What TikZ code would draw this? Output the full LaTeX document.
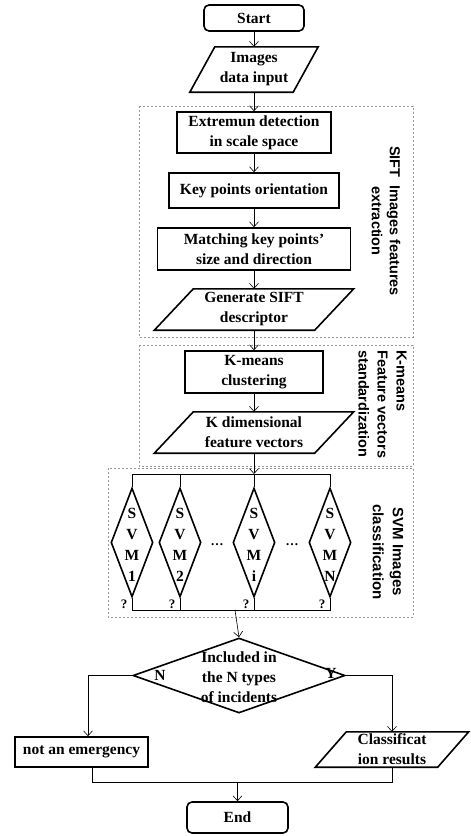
\documentclass[tikz,border=0pt]{standalone}
\usepackage{fontspec}
\setmainfont{Liberation Serif}
\newfontfamily\labfont{Liberation Sans}
\usetikzlibrary{shapes.geometric,arrows.meta}
\newcommand\drawpara[2]{\draw[border] ([xshift=#2]#1.north west) -- ([xshift=#2]#1.north east) -- ([xshift=-#2]#1.south east) -- ([xshift=-#2]#1.south west) -- cycle;}
\begin{document}
\begin{tikzpicture}[x=1pt,y=-1pt,
  border/.style={line width=1.6pt, line join=miter},
  txt/.style={inner sep=0pt, align=center, font=\bfseries\fontsize{15.5}{20}\selectfont},
  proc/.style={txt, draw, border},
  term/.style={proc, rounded corners=5pt},
  io/.style={txt},
  svmd/.style={shape=diamond, draw, border, inner sep=0pt, minimum width=42pt, minimum height=109pt},
  svmt/.style={inner sep=0pt, align=center, font=\bfseries\fontsize{15.5}{21}\selectfont},
  qm/.style={inner sep=0pt, font=\bfseries\fontsize{13}{13}\selectfont},
  conn/.style={line width=0.6pt},
  arr/.style={conn, -{Straight Barb[length=5pt,width=9pt]}},
  dbox/.style={draw=black!40, line width=0.5pt, dash pattern=on 2pt off 2pt},
  sidelab/.style={inner sep=0pt, rotate=-90, font=\labfont\bfseries\fontsize{14.5}{19}\selectfont}
]
\useasboundingbox[fill=white] (0,0) rectangle (471,836);

% dashed groups
\draw[dbox] (139,106) rectangle (413,337);
\draw[dbox] (139,345) rectangle (413,466);
\draw[dbox] (108,468) rectangle (413,617);

% main column
\node[term, minimum width=100pt, minimum height=26pt] (start) at (254,18) {Start};
\node[io, minimum width=103pt, minimum height=45pt] (img) at (254,69.5) {Images\\data input};
\drawpara{img}{12.5pt}
\node[proc, minimum width=154pt, minimum height=41pt] (ext) at (254,132.5) {Extremun detection\\in scale space};
\node[proc, minimum width=170pt, minimum height=35pt] (key) at (254,190.5) {Key points orientation};
\node[proc, minimum width=193pt, minimum height=42pt] (match) at (254,249) {Matching key points'\\size and direction};
\node[io, minimum width=160pt, minimum height=41pt] (gen) at (254,309.5) {Generate SIFT\\descriptor};
\drawpara{gen}{19.5pt}
\node[proc, minimum width=138pt, minimum height=42pt] (km) at (254,372) {K-means\\clustering};
\node[io, minimum width=160pt, minimum height=41pt] (kd) at (254,432.5) {K dimensional\\feature vectors};
\drawpara{kd}{19.5pt}

\draw[arr] (start) -- (img);
\draw[arr] (img) -- (ext);
\draw[arr] (ext) -- (key);
\draw[arr] (key) -- (match);
\draw[arr] (match) -- (gen);
\draw[arr] (gen) -- (km);
\draw[arr] (km) -- (kd);

% side labels
\node[sidelab, align=center, font=\labfont\bfseries\fontsize{14.5}{18}\selectfont] (siftl) at (386,221) {SIFT\ \ Images features\\extraction};
\node[sidelab, anchor=west, align=left] (kml) at (382.5,350) {K-means\\Feature vectors\\standardization};
\node[sidelab, align=center, font=\labfont\bfseries\fontsize{15}{20}\selectfont] (svml) at (388,552) {SVM Images\\classification};

% SVM classifiers
\node[svmd] (s1) at (132,542.5) {};
\node[svmd] (s2) at (180,542.5) {};
\node[svmd] (si) at (254,542.5) {};
\node[svmd] (sn) at (330,542.5) {};
\node[svmt] (t1) at (132,545) {S\\V\\M\\1};
\node[svmt] (t2) at (180,545) {S\\V\\M\\2};
\node[svmt] (ti) at (254,545) {S\\V\\M\\i};
\node[svmt] (tn) at (330,545) {S\\V\\M\\N};
\node[font=\bfseries\fontsize{13}{13}\selectfont] (d1) at (217,545) {\dots};
\node[font=\bfseries\fontsize{13}{13}\selectfont] (d2) at (292,545) {\dots};
\node[qm] (q1) at (124,604) {?};
\node[qm] (q2) at (172,604) {?};
\node[qm] (q3) at (246,604) {?};
\node[qm] (q4) at (322,604) {?};

\coordinate (busT) at (132,474);
\coordinate (busB) at (132,610);
\draw[conn] (s1.north) -- (s1.north |- busT) -- (sn.north |- busT) -- (sn.north);
\draw[conn] (s2.north) -- (s2.north |- busT);
\draw[conn] (si.north) -- (si.north |- busT);
\draw[conn] (s1.south) -- (s1.south |- busB) -- (sn.south |- busB) -- (sn.south);
\draw[conn] (s2.south) -- (s2.south |- busB);
\draw[conn] (si.south) -- (si.south |- busB);
\draw[arr] (kd.south) -- (kd.south |- busT);

% decision
\node[shape=diamond, draw, border, inner sep=0pt, minimum width=212pt, minimum height=75pt] (dec) at (239,675.5) {};
\node[txt] (dect) at (239,677.5) {Included in\\the N types\\of incidents};
\node[txt] (nlab) at (160,675) {N};
\node[txt] (ylab) at (331,673) {Y};
\coordinate (exitp) at (235,610);
\draw[arr] (exitp) -- (dec.north);

\node[proc, minimum width=133pt, minimum height=30pt] (noem) at (81.5,752) {not an emergency};
\node[io, minimum width=122pt, minimum height=35pt] (cls) at (392,749.5) {Classificat\\ion results};
\drawpara{cls}{15.5pt}
\node[term, minimum width=101pt, minimum height=31pt] (end) at (237.5,817.5) {End};

\coordinate (lb) at (88,675.5);
\draw[arr] (dec.west) -- (lb) -- (lb |- noem.north);
\draw[arr] (dec.east) -| (cls.north);
\coordinate (bl) at (92,782);
\draw[conn] (bl |- noem.south) -- (bl) -- (cls.south |- bl) -- (cls.south);
\draw[arr] (end.north |- bl) -- (end.north);
\end{tikzpicture}
\end{document}
